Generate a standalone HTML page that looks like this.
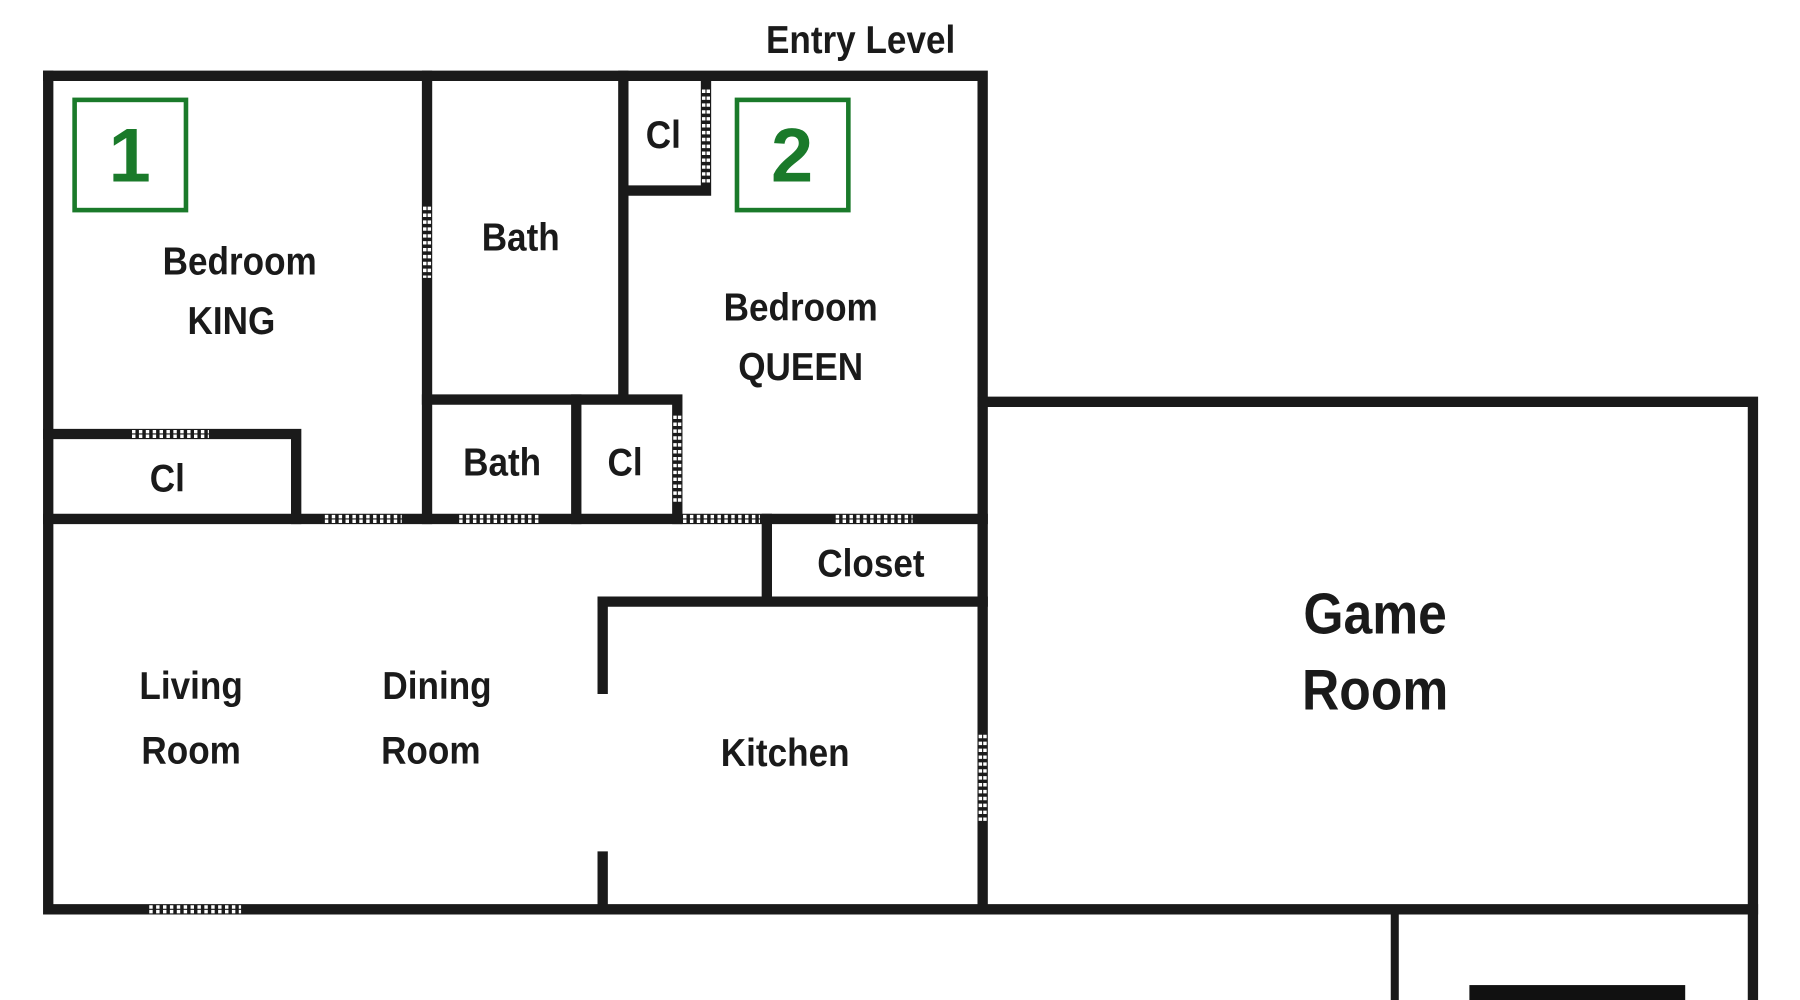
<!DOCTYPE html>
<html><head><style>html,body{margin:0;padding:0;background:#fff}svg{display:block}</style></head>
<body>
<svg width="1800" height="1000" viewBox="0 0 1568 871" preserveAspectRatio="none" xmlns="http://www.w3.org/2000/svg">
<rect width="1568" height="871" fill="#fff"/>
<g stroke="#1a1a1a" stroke-width="9" fill="none" stroke-linecap="square">
<path d="M42 66 H856 V790"/>
<path d="M42 66 V792 H1527"/>
<path d="M856 350 H1527 V871"/>
<path d="M372 66 V452"/>
<path d="M543 66 V345"/>
<path d="M548 166 H615 V75"/>
<path d="M372 348 H590 V452"/>
<path d="M502 348 V452"/>
<path d="M42 378 H258 V452"/>
<path d="M42 452 H856"/>
<path d="M668 452 V522"/>
<path d="M525 524 H856"/>
<path d="M525 524 V600"/>
<path d="M525 746 V792"/>
</g>
<line x1="1215" y1="795" x2="1215" y2="871" stroke="#1a1a1a" stroke-width="7"/>
<rect x="1280" y="858" width="188" height="13" fill="#111"/>
<g stroke="#fff" stroke-width="3" stroke-dasharray="3 3">
<path d="M115 376 H182 M115 380 H182"/>
<path d="M283 450 H350 M283 454 H350"/>
<path d="M400 450 H470 M400 454 H470"/>
<path d="M595 450 H662 M595 454 H662"/>
<path d="M728 450 H795 M728 454 H795"/>
<path d="M130 790 H210 M130 794 H210"/>
<path d="M370 180 V242 M374 180 V242"/>
<path d="M613 78 V160 M617 78 V160"/>
<path d="M588 362 V440 M592 362 V440"/>
<path d="M854 640 V715 M858 640 V715"/>
</g>
<g fill="none" stroke="#1a7a2a" stroke-width="4">
<rect x="65" y="87" width="97" height="96"/>
<rect x="642" y="87" width="97" height="96"/>
</g>
<g font-family="Liberation Sans, sans-serif" font-weight="bold" fill="#1a7a2a" font-size="66" text-anchor="middle">
<text x="113" y="158">1</text>
<text x="690" y="158">2</text>
</g>
<g font-family="Liberation Sans, sans-serif" font-weight="bold" fill="#1a1a1a" font-size="34" text-anchor="middle" transform="scale(0.9 1)">
<text x="833" y="46" font-size="34">Entry Level</text>
<text x="232" y="239">Bedroom</text>
<text x="224" y="291">KING</text>
<text x="504" y="218">Bath</text>
<text x="642" y="129">Cl</text>
<text x="775" y="279">Bedroom</text>
<text x="775" y="331">QUEEN</text>
<text x="162" y="428">Cl</text>
<text x="486" y="414">Bath</text>
<text x="605" y="414">Cl</text>
<text x="843" y="502">Closet</text>
<text x="185" y="609">Living</text>
<text x="185" y="665">Room</text>
<text x="423" y="609">Dining</text>
<text x="417" y="665">Room</text>
<text x="760" y="667">Kitchen</text>
<text x="1331" y="552" font-size="50">Game</text>
<text x="1331" y="618" font-size="50">Room</text>
</g>
</svg>
</body></html>
